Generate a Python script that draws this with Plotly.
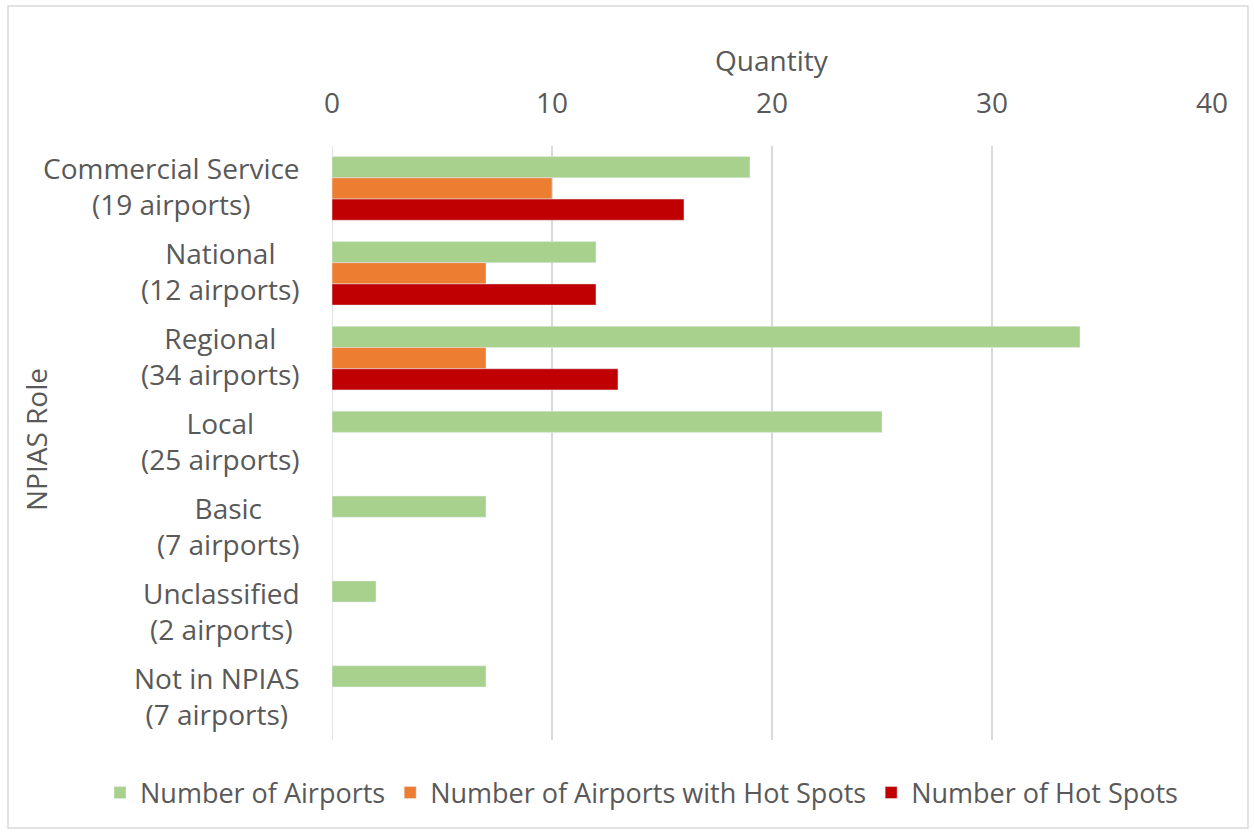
import plotly.graph_objects as go

roles = ["Commercial Service", "National", "Regional", "Local", "Basic",
         "Unclassified", "Not in NPIAS"]
airport_counts = [19, 12, 34, 25, 7, 2, 7]
airports_with_hot_spots = [10, 7, 7, 0, 0, 0, 0]
hot_spots = [16, 12, 13, 0, 0, 0, 0]
x_ticks = [0, 10, 20, 30, 40]

W, H = 1254, 833
ML, MR, MT, MB = 332, 42, 146, 93
PW, PH = W - ML - MR, H - MT - MB

FONT = "Open Sans"
GREY = "#595959"
FS = 28

fig = go.Figure()
fig.add_trace(go.Bar(y=roles, x=airport_counts, orientation="h",
                     name="Number of Airports", marker_color="#A9D18E"))
fig.add_trace(go.Bar(y=roles, x=airports_with_hot_spots, orientation="h",
                     name="Number of Airports with Hot Spots", marker_color="#ED7D31"))
fig.add_trace(go.Bar(y=roles, x=hot_spots, orientation="h",
                     name="Number of Hot Spots", marker_color="#C00000"))

# two-line category labels, lines centred on each other
for role, n in zip(roles, airport_counts):
    fig.add_annotation(x=0, xref="paper", y=role, yref="y", xanchor="right",
                       yanchor="middle", xshift=-30, yshift=2, align="center",
                       showarrow=False, text=f"{role}<br>({n} airports)",
                       font=dict(family=FONT, size=FS, color=GREY))


def px_x(p):
    return (p - ML) / PW


def px_y(p):
    return (H - MB - p) / PH


# outer chart border
fig.add_shape(type="rect", xref="paper", yref="paper",
              x0=px_x(8), x1=px_x(1248), y0=px_y(828), y1=px_y(6),
              line=dict(color="#d9d9d9", width=1.5), fillcolor="rgba(0,0,0,0)")

fig.update_layout(
    width=W, height=H,
    margin=dict(l=ML, r=MR, t=MT, b=MB, autoexpand=False),
    paper_bgcolor="white", plot_bgcolor="white",
    barmode="group", bargap=0.25, bargroupgap=0,
    font=dict(family=FONT, size=FS, color=GREY),
    xaxis=dict(side="top", range=[0, 40], tickvals=x_ticks,
               showgrid=True, gridcolor="#d9d9d9", gridwidth=1.5,
               zeroline=False, showline=False, ticks="",
               ticklabelstandoff=26,
               tickfont=dict(size=FS, color=GREY)),
    yaxis=dict(autorange="reversed", showticklabels=False, showgrid=False,
               zeroline=False, showline=False, ticks=""),
    legend=dict(orientation="h", x=px_x(100), xanchor="left",
                y=px_y(793), yanchor="middle",
                font=dict(size=FS - 1, color=GREY), itemwidth=30,
                traceorder="normal"),
    showlegend=True,
)

# axis titles
fig.add_annotation(x=0.5, xref="paper", y=px_y(60), yref="paper",
                   xanchor="center", yanchor="middle",
                   text="Quantity", showarrow=False,
                   font=dict(family=FONT, size=FS, color=GREY))
fig.add_annotation(x=px_x(36), xref="paper", y=px_y(440), yref="paper",
                   xanchor="center", yanchor="middle",
                   text="NPIAS Role", textangle=-90, showarrow=False,
                   font=dict(family=FONT, size=FS, color=GREY))

# vertical axis line at zero
fig.add_shape(type="line", xref="x", yref="paper", x0=0, x1=0, y0=0, y1=1,
              line=dict(color="#d9d9d9", width=1.5), layer="below")

fig.write_html("out.html")
